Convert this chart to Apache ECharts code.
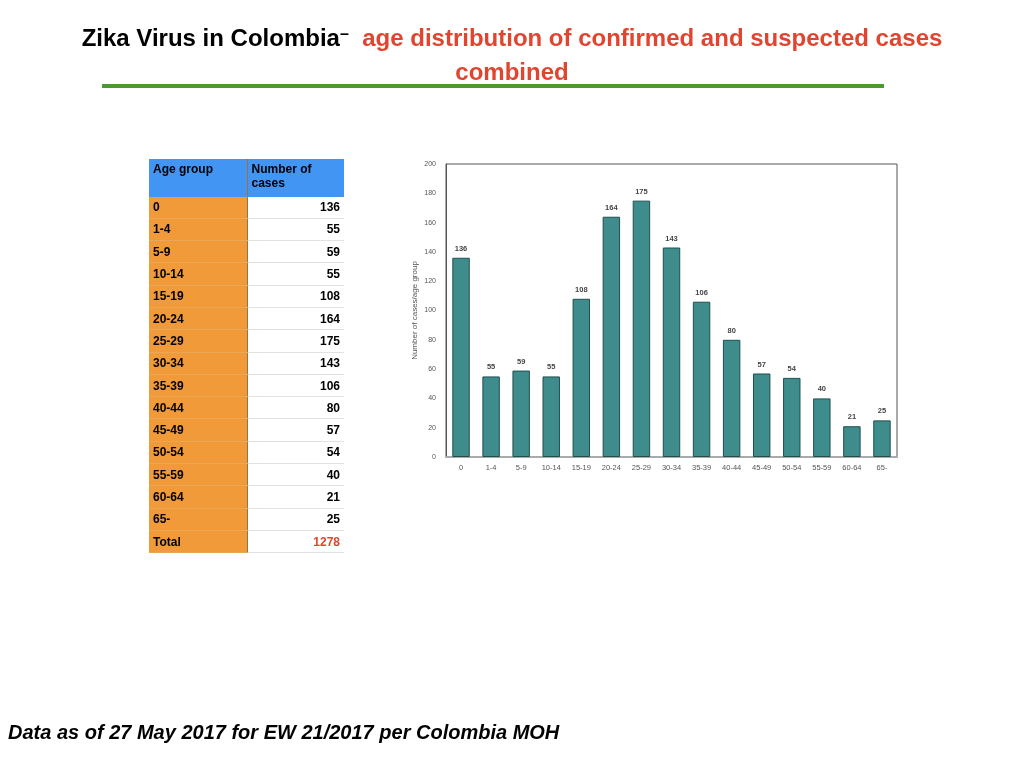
<!DOCTYPE html>
<html>
<head>
<meta charset="utf-8">
<script src="https://cdn.jsdelivr.net/npm/echarts@6/dist/echarts.min.js"></script>
<style>
  html, body { margin:0; padding:0; width:1024px; height:768px; background:#fff; overflow:hidden; font-family:"Liberation Sans", Arial, sans-serif; }
  #title { position:absolute; left:0; top:22px; width:1024px; text-align:center; font-weight:bold; font-size:24px; line-height:31px; }
  #title .blk { color:#000; }
  #title .dash { font-size:16px; position:relative; top:-7px; }
  #title .red { color:#e0452f; }
  #rule { position:absolute; left:102px; top:84px; width:782px; height:4px; background:#4a9a30; }
  #footer { position:absolute; left:8px; top:721px; font-size:20px; font-weight:bold; font-style:italic; color:#000; }
  #tbl { position:absolute; left:149px; top:159px; border-collapse:collapse; font-size:12px; font-weight:bold; }
  #tbl td { padding:0 4px; height:22.3px; box-sizing:border-box; border-bottom:1px solid #e2e2e2; }
  #tbl td.c1 { width:98px; background:#f09a3a; border-right:1px solid #9a7040; border-bottom:1px solid #e8a858; }
  #tbl td.c2 { width:97px; text-align:right; background:#fff; }
  #tbl tr.hd td { background:#4295f2; height:37px; vertical-align:top; padding-top:3px; line-height:14px; border-bottom:1px solid #4295f2; }
  #tbl tr.hd td.c2 { text-align:left; }
  #tbl td.tot { color:#e0452f; }
  #chart { position:absolute; left:0; top:0; width:1024px; height:768px; }
</style>
</head>
<body>
<div id="chart"></div>
<div id="title"><span class="blk">Zika Virus in Colombia<span class="dash">–</span> </span><span class="red">&nbsp;age distribution of confirmed and suspected cases<br>combined</span></div>
<div id="rule"></div>
<table id="tbl"></table>
<div id="footer">Data as of 27 May 2017 for EW 21/2017 per Colombia MOH</div>
<script>
const ageGroups = ["0","1-4","5-9","10-14","15-19","20-24","25-29","30-34","35-39","40-44","45-49","50-54","55-59","60-64","65-"];
const caseCounts = [136,55,59,55,108,164,175,143,106,80,57,54,40,21,25];
const totalCases = 1278;
const yTicks = {min:0, max:200, interval:20};

// table
const tbl = document.getElementById('tbl');
let html = '<tr class="hd"><td class="c1">Age group</td><td class="c2">Number of<br>cases</td></tr>';
ageGroups.forEach((g,i)=>{ html += '<tr><td class="c1">'+g+'</td><td class="c2">'+caseCounts[i]+'</td></tr>'; });
html += '<tr><td class="c1">Total</td><td class="c2 tot">'+totalCases+'</td></tr>';
tbl.innerHTML = html;

const chart = echarts.init(document.getElementById('chart'));
chart.setOption({
  animation:false,
  grid:{left:446, right:127, top:164, bottom:311, show:true, borderColor:'#555', borderWidth:1, backgroundColor:'transparent'},
  xAxis:{
    type:'category', data:ageGroups,
    axisLine:{show:true, lineStyle:{color:'#aaa', width:2}},
    axisTick:{show:false},
    axisLabel:{fontSize:7.5, color:'#555', margin:7, interval:0, fontFamily:'Liberation Sans'}
  },
  yAxis:{
    type:'value', min:yTicks.min, max:yTicks.max, interval:yTicks.interval,
    name:'Number of cases/age group', nameLocation:'middle', nameGap:27,
    nameTextStyle:{fontSize:8, color:'#555', fontFamily:'Liberation Sans'},
    axisLine:{show:true, lineStyle:{color:'#555'}},
    axisTick:{show:false},
    splitLine:{show:false},
    axisLabel:{fontSize:7, color:'#555', margin:10, fontFamily:'Liberation Sans'}
  },
  series:[{
    type:'bar', data:caseCounts, barWidth:'58%',
    itemStyle:{color:'#3f8c8c', borderColor:'#1f4f4f', borderWidth:1},
    label:{show:true, position:'top', fontSize:7.5, color:'#444', fontWeight:'bold', distance:5, fontFamily:'Liberation Sans'}
  }]
});
</script>
</body>
</html>
